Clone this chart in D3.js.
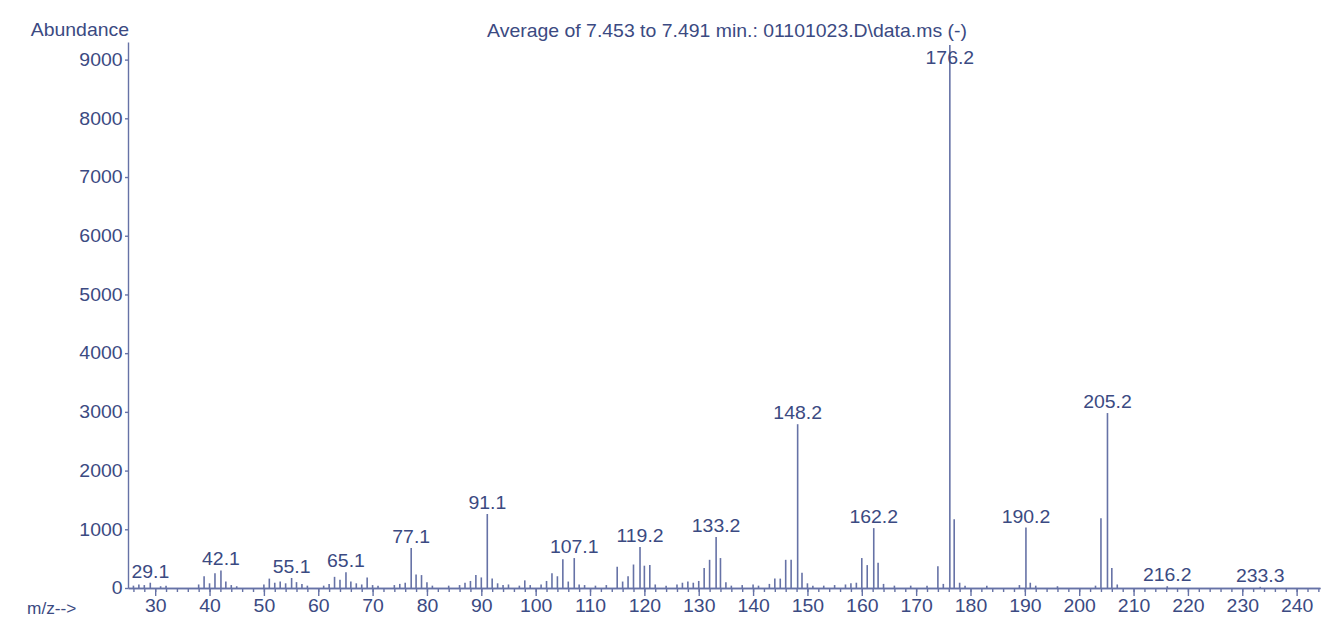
<!DOCTYPE html>
<html>
<head>
<meta charset="utf-8">
<script src="https://cdn.jsdelivr.net/npm/d3@7"></script>
<style>
    body { margin: 0; background: #ffffff; }
    text { font-family: "Liberation Sans", Arial, sans-serif; fill: #3b4a82; }
</style>
</head>
<body>
<div id="spectrum"></div>
<script>
//set svg dimensions
var svgWidth = 1331;
var svgHeight = 624;

//peak positions (m/z) and abundances
var mzValues = [26, 27, 28, 29.1, 31, 32, 38, 39, 40, 41, 42.1, 43, 44, 45,
    50, 51, 52, 53, 54, 55.1, 56, 57, 58, 61, 62, 63, 64, 65.1, 66, 67, 68, 69, 70, 71,
    74, 75, 76, 77.1, 78, 79, 80, 81, 84, 86, 87, 88, 89, 90, 91.1, 92, 93, 94, 95, 97, 98, 99,
    101, 102, 103, 104, 105, 106, 107.1, 108, 109, 111, 113, 115, 116, 117, 118, 119.2, 120, 121, 122, 124,
    126, 127, 128, 129, 130, 131, 132, 133.2, 134, 135, 136, 138, 140, 141,
    143, 144, 145, 146, 147, 148.2, 149, 150, 151, 153, 155, 157, 158, 159,
    160, 161, 162.2, 163, 164, 166, 169, 172, 174, 175, 176.2, 177, 178, 179, 183, 189,
    190.2, 191, 192, 196, 203, 204, 205.2, 206, 207, 216.2, 233.3];
var abundances = [40, 60, 50, 90, 30, 40, 60, 200, 80, 250, 300, 110, 50, 30,
    60, 160, 90, 110, 80, 170, 100, 70, 40, 40, 70, 190, 140, 270, 110, 80, 60, 180, 50, 40,
    50, 70, 90, 680, 230, 220, 100, 40, 40, 50, 90, 120, 220, 180, 1260, 160, 80, 50, 60, 40, 130, 50,
    60, 120, 250, 200, 490, 110, 510, 60, 50, 40, 50, 360, 110, 200, 400, 700, 380, 390, 60, 40,
    60, 90, 110, 90, 120, 340, 480, 870, 510, 100, 40, 50, 60, 40,
    70, 160, 160, 480, 480, 2790, 260, 80, 40, 40, 50, 60, 80, 90,
    510, 390, 1020, 430, 70, 40, 40, 40, 370, 70, 9250, 1170, 90, 40, 40, 50,
    1030, 90, 40, 30, 40, 1190, 2980, 340, 60, 30, 20];

//peaks that carry a label
var labelledPeaks = [29.1, 42.1, 55.1, 65.1, 77.1, 91.1, 107.1, 119.2, 133.2,
    148.2, 162.2, 176.2, 190.2, 205.2, 216.2, 233.3];

//axis ticks
var xMajorTicks = d3.range(30, 241, 10);
var xMinorTicks = d3.range(26, 245, 2);
var yTicks = d3.range(0, 9001, 1000);

var peaks = mzValues.map(function(m, i) {
    return { mz: m, abundance: abundances[i] };
});

var lineColor = "#6672a6";
var stretch = "scale(1.08,1)";

var svg = d3.select("#spectrum").append("svg")
    .attr("width", svgWidth)
    .attr("height", svgHeight);

//scales
var xScale = d3.scaleLinear()
    .domain([25, 244.3])
    .range([128, 1320]);

var yScale = d3.scaleLinear()
    .domain([0, 9300])
    .range([588, 42]);

//minor x ticks
var xMinorAxis = d3.axisBottom(xScale)
    .tickValues(xMinorTicks)
    .tickSize(4)
    .tickSizeOuter(0)
    .tickFormat("");

svg.append("g")
    .attr("transform", `translate(0, ${yScale(0)})`)
    .call(xMinorAxis);

//major x ticks with labels
var xMajorAxis = d3.axisBottom(xScale)
    .tickValues(xMajorTicks)
    .tickSize(8)
    .tickSizeOuter(0)
    .tickPadding(3);

var xAxis = svg.append("g")
    .attr("transform", `translate(0, ${yScale(0)})`)
    .call(xMajorAxis);

//y axis
var yAxisGen = d3.axisLeft(yScale)
    .tickValues(yTicks)
    .tickSize(3)
    .tickSizeOuter(0)
    .tickPadding(2)
    .tickFormat(d3.format("d"));

var yAxis = svg.append("g")
    .attr("transform", `translate(${xScale(25)}, 0)`)
    .call(yAxisGen);

//style both axes
svg.selectAll(".domain, .tick line")
    .attr("stroke", lineColor)
    .attr("stroke-width", 1.4);

svg.selectAll(".tick text")
    .attr("font-size", "18px")
    .attr("fill", "#3b4a82")
    .attr("transform", stretch);

//peaks
svg.append("g")
    .selectAll("line")
    .data(peaks)
    .enter()
    .append("line")
    .attr("x1", d => xScale(d.mz))
    .attr("x2", d => xScale(d.mz))
    .attr("y1", yScale(0))
    .attr("y2", d => yScale(d.abundance))
    .attr("stroke", lineColor)
    .attr("stroke-width", 1.6);

//peak labels
svg.append("g")
    .selectAll("text")
    .data(peaks.filter(d => labelledPeaks.indexOf(d.mz) > -1))
    .enter()
    .append("text")
    .attr("text-anchor", "middle")
    .attr("font-size", "18px")
    .attr("transform", d => `translate(${xScale(d.mz)}, ${Math.max(yScale(d.abundance) - 5, 64)}) ${stretch}`)
    .text(d => d.mz.toFixed(1));

//title and axis names
svg.append("text")
    .attr("text-anchor", "middle")
    .attr("font-size", "18px")
    .attr("transform", `translate(727, 37) ${stretch}`)
    .text("Average of 7.453 to 7.491 min.: 01101023.D\\data.ms (-)");

svg.append("text")
    .attr("text-anchor", "end")
    .attr("font-size", "18px")
    .attr("transform", `translate(129, 36) ${stretch}`)
    .text("Abundance");

svg.append("text")
    .attr("text-anchor", "start")
    .attr("font-size", "16px")
    .attr("transform", `translate(27, 614) ${stretch}`)
    .text("m/z-->");
</script>
</body>
</html>
